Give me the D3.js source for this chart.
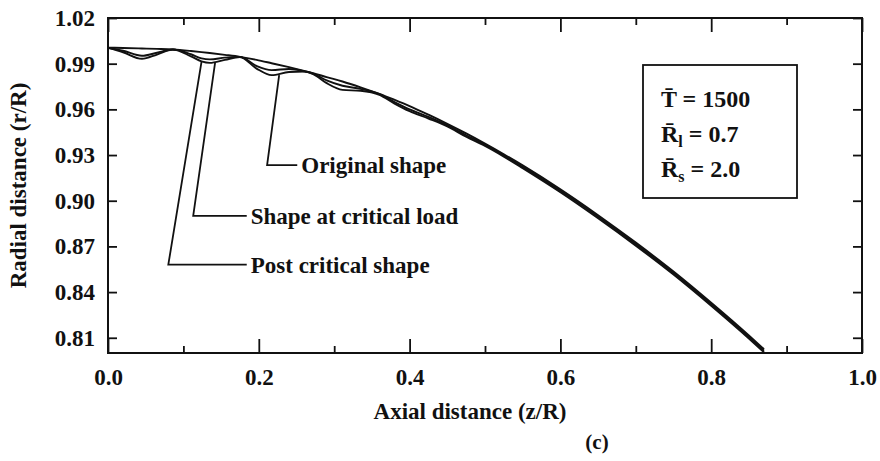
<!DOCTYPE html>
<html>
<head>
<meta charset="utf-8">
<script src="https://cdn.jsdelivr.net/npm/d3@7"></script>
<style>
  body { margin: 0; background: #fff; }
  text { font-family: "Liberation Serif", "Times New Roman", serif; font-weight: bold; fill: #111; }
</style>
</head>
<body>
<svg id="chart" width="880" height="461"></svg>
<script>
// axial positions (z/R)
var zAxial = [0, 0.02, 0.045, 0.065, 0.086, 0.11, 0.124, 0.135, 0.155, 0.175, 0.197, 0.217, 0.24, 0.26, 0.272, 0.29,
  0.311, 0.335, 0.36, 0.38, 0.40, 0.425, 0.45, 0.475, 0.50, 0.525, 0.55, 0.60, 0.65, 0.70, 0.75, 0.80, 0.85, 0.87];

// radial distance (r/R) for the three shapes
var rOriginal = [1.0005, 1.0003, 1.0000, 0.9997, 0.9993, 0.9983, 0.9976, 0.9970, 0.9958, 0.9945, 0.9925, 0.9903, 0.9877, 0.9853, 0.9838, 0.9812,
  0.9783, 0.9745, 0.9702, 0.9663, 0.9622, 0.9565, 0.9505, 0.9442, 0.9375, 0.9305, 0.9232, 0.9075, 0.8905, 0.8725, 0.8535, 0.8330, 0.8115, 0.8025];
var rCritical = [1.0005, 0.9985, 0.9952, 0.9972, 0.9993, 0.9962, 0.9935, 0.9928, 0.9940, 0.9945, 0.9885, 0.9858, 0.9865, 0.9850, 0.9835, 0.9790,
  0.9755, 0.9735, 0.9700, 0.9648, 0.9600, 0.9550, 0.9495, 0.9430, 0.9368, 0.9298, 0.9222, 0.9065, 0.8895, 0.8715, 0.8525, 0.8320, 0.8105, 0.8015];
var rPost = [1.0005, 0.9975, 0.9932, 0.9960, 0.9993, 0.9948, 0.9915, 0.9905, 0.9925, 0.9944, 0.9868, 0.9825, 0.9845, 0.9848, 0.9832, 0.9772,
  0.9728, 0.9722, 0.9695, 0.9638, 0.9588, 0.9540, 0.9488, 0.9420, 0.9360, 0.9290, 0.9214, 0.9056, 0.8885, 0.8705, 0.8515, 0.8310, 0.8095, 0.8005];

var xTicks = [0, 0.2, 0.4, 0.6, 0.8, 1.0];
var xMinor = [0.1, 0.3, 0.5, 0.7, 0.9];
var yTicks = [0.81, 0.84, 0.87, 0.90, 0.93, 0.96, 0.99, 1.02];

// leader labels: tip on the curve, elbow, end of the horizontal stroke
var noteNames = ["Original shape", "Shape at critical load", "Post critical shape"];
var noteTip = [[0.227, 0.9825], [0.142, 0.9905], [0.124, 0.9912]];
var noteElbow = [[0.211, 0.9234], [0.113, 0.8900], [0.080, 0.8580]];
var noteEnd = [0.251, 0.184, 0.184];

var paramNames = ["T\u0304", "R\u0304", "R\u0304"];
var paramSubs = ["", "l", "s"];
var paramValues = ["1500", "0.7", "2.0"];

var W = 880, H = 461;
var margin = {top: 18, right: 18, bottom: 108, left: 108};
var svg = d3.select("#chart");

var x = d3.scaleLinear().domain([0, 1]).range([margin.left, W - margin.right]);
var y = d3.scaleLinear().domain([0.80, 1.02]).range([H - margin.bottom, margin.top]);

svg.append("clipPath").attr("id", "plot")
  .append("rect")
  .attr("x", x(0)).attr("y", y(1.02))
  .attr("width", x(1) - x(0)).attr("height", y(0.80) - y(1.02));

function styleAxis(g) {
  g.attr("font-family", null).attr("font-size", null);
  g.select(".domain").remove();
  g.selectAll("line").attr("stroke", "#111").attr("stroke-width", 1.8);
  g.selectAll("text").style("font-size", "23px");
}

svg.append("g").attr("transform", "translate(0," + y(0.80) + ")")
  .call(d3.axisBottom(x).tickValues(xTicks).tickSize(-14).tickPadding(16).tickFormat(d3.format(".1f")))
  .call(styleAxis);
svg.append("g").attr("transform", "translate(0," + y(0.80) + ")")
  .call(d3.axisBottom(x).tickValues(xMinor).tickSize(-7).tickFormat(""))
  .call(styleAxis);
svg.append("g").attr("transform", "translate(0," + y(1.02) + ")")
  .call(d3.axisTop(x).tickValues(xTicks).tickSize(-14).tickFormat(""))
  .call(styleAxis);
svg.append("g").attr("transform", "translate(0," + y(1.02) + ")")
  .call(d3.axisTop(x).tickValues(xMinor).tickSize(-7).tickFormat(""))
  .call(styleAxis);
svg.append("g").attr("transform", "translate(" + x(0) + ",0)")
  .call(d3.axisLeft(y).tickValues(yTicks).tickSize(-9).tickPadding(13).tickFormat(d3.format(".2f")))
  .call(styleAxis);
svg.append("g").attr("transform", "translate(" + x(1) + ",0)")
  .call(d3.axisRight(y).tickValues(yTicks).tickSize(-9).tickFormat(""))
  .call(styleAxis);

// frame
svg.append("rect")
  .attr("x", x(0)).attr("y", y(1.02))
  .attr("width", x(1) - x(0)).attr("height", y(0.80) - y(1.02))
  .attr("fill", "none").attr("stroke", "#111").attr("stroke-width", 2);

// curves
var line = d3.line()
  .x(function(d) { return x(d[0]); })
  .y(function(d) { return y(d[1]); })
  .curve(d3.curveMonotoneX);

[rOriginal, rCritical, rPost].forEach(function(series) {
  svg.append("path")
    .datum(zAxial.map(function(z, i) { return [z, series[i]]; }))
    .attr("clip-path", "url(#plot)")
    .attr("fill", "none")
    .attr("stroke", "#111")
    .attr("stroke-width", 1.9)
    .attr("d", line);
});

// leaders and labels
noteNames.forEach(function(name, i) {
  svg.append("polyline")
    .attr("points", [
      [x(noteTip[i][0]), y(noteTip[i][1])],
      [x(noteElbow[i][0]), y(noteElbow[i][1])],
      [x(noteEnd[i]), y(noteElbow[i][1])]
    ].join(" "))
    .attr("fill", "none").attr("stroke", "#111").attr("stroke-width", 1.8);
  svg.append("text")
    .attr("x", x(noteEnd[i]) + 4)
    .attr("y", y(noteElbow[i][1]))
    .attr("dy", "0.35em")
    .style("font-size", "23px")
    .text(name);
});

// parameter box
var box = svg.append("g").attr("transform", "translate(643,65)");
box.append("rect").attr("width", 154).attr("height", 133)
  .attr("fill", "#fff").attr("stroke", "#111").attr("stroke-width", 1.8);
paramNames.forEach(function(name, i) {
  var t = box.append("text").attr("x", 18).attr("y", 42 + i * 35).style("font-size", "24px");
  t.append("tspan").text(name);
  if (paramSubs[i]) t.append("tspan").attr("dy", 5).style("font-size", "16px").text(paramSubs[i]);
  t.append("tspan").attr("dy", paramSubs[i] ? -5 : 0).text(" = " + paramValues[i]);
});

// axis titles
svg.append("text")
  .attr("x", 470).attr("y", 419)
  .attr("text-anchor", "middle")
  .style("font-size", "23px")
  .text("Axial distance (z/R)");
svg.append("text")
  .attr("transform", "translate(26," + ((y(0.80) + y(1.02)) / 2) + ") rotate(-90)")
  .attr("text-anchor", "middle")
  .style("font-size", "23px")
  .text("Radial distance (r/R)");
svg.append("text")
  .attr("x", 597).attr("y", 449)
  .attr("text-anchor", "middle")
  .style("font-size", "21px")
  .text("(c)");
</script>
</body>
</html>
